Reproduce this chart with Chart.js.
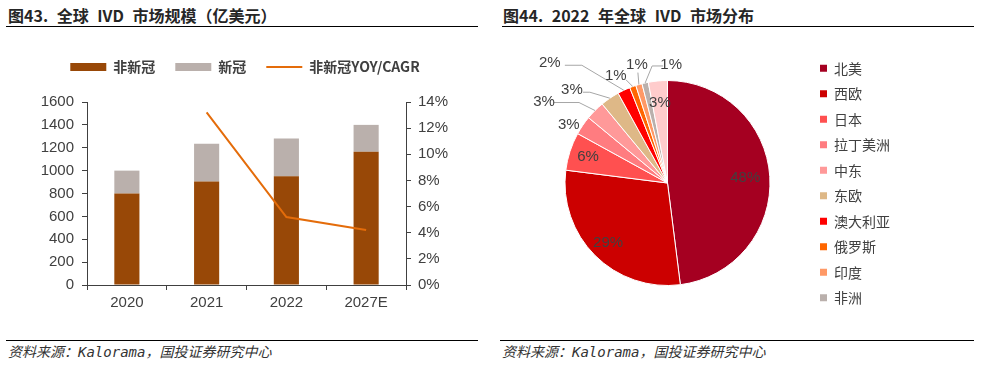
<!DOCTYPE html>
<html>
<head>
<meta charset="utf-8">
<script src="https://cdn.jsdelivr.net/npm/chart.js"></script>
<style>
  body { margin: 0; background: #fff; }
  #page { position: relative; width: 981px; height: 365px; overflow: hidden; background: #fff; font-family: "Noto Sans CJK SC", sans-serif; }
  .title { position: absolute; top: 5px; line-height: 20px; font-size: 16px; font-weight: bold; color: #262626; word-spacing: 5px; white-space: nowrap; text-spacing-trim: space-all; }
  .rule { position: absolute; height: 0; border-top: 1.5px solid #000; }
  .source { position: absolute; top: 344px; line-height: 16px; font-size: 14px; font-style: italic; color: #333; white-space: nowrap; text-spacing-trim: space-all;
            font-family: "DejaVu Sans Mono", "Noto Sans CJK SC", monospace; }
  .box { position: absolute; }
</style>
</head>
<body>
<div id="page">
  <div class="title" style="left:8px">图43. 全球 IVD 市场规模（亿美元）</div>
  <div class="rule" style="left:6px; width:472px; top:26px"></div>
  <div class="title" style="left:503px">图44. 2022 年全球 IVD 市场分布</div>
  <div class="rule" style="left:502px; width:472px; top:26px"></div>

  <div class="box" style="left:0; top:0"><canvas id="bar" width="490" height="330"></canvas></div>
  <div class="box" style="left:490px; top:30px"><canvas id="pie" width="491" height="305"></canvas></div>

  <div class="rule" style="left:6px; width:472px; top:340px"></div>
  <div class="rule" style="left:500px; width:474px; top:340px"></div>
  <div class="source" style="left:8px">资料来源：Kalorama，国投证券研究中心</div>
  <div class="source" style="left:502px">资料来源：Kalorama，国投证券研究中心</div>
</div>

<script>
// 图43: 全球IVD市场规模 (亿美元)
const years = ['2020', '2021', '2022', '2027E'];
const nonCovid = [800, 905, 950, 1165];
const covid = [200, 330, 330, 235];
const nonCovidGrowth = [null, 13.2, 5.2, 4.2]; // %, 2027E is CAGR
const sizeTicks = [0, 200, 400, 600, 800, 1000, 1200, 1400, 1600];
const growthTicks = [0, 2, 4, 6, 8, 10, 12, 14];

// 图44: 2022年全球IVD市场分布 (%)
const regions = ['北美', '西欧', '日本', '拉丁美洲', '中东', '东欧', '澳大利亚', '俄罗斯', '印度', '非洲', '其他'];
const regionShares = [48, 29, 6, 3, 3, 3, 2, 1, 1, 1, 3];
const regionColors = ['#A50021', '#CC0000', '#FF5050', '#FF7C80', '#FF9999', '#DEB887',
                      '#FF0000', '#FF6600', '#FF9966', '#BAB0AC', '#FFCCCC'];

const ink = '#404040';
const axisFont = { family: '"Liberation Sans", Arial, sans-serif', size: 15 };
const cjkFont = { family: '"Noto Sans CJK SC", sans-serif', size: 14 };

// push the plot down below the legend
const legendGap = {
    id: 'legendGap',
    beforeInit(chart) {
        const fit = chart.legend.fit;
        chart.legend.fit = function () {
            fit.call(this);
            this.height += 18;
        };
    }
};

new Chart(document.getElementById('bar'), {
    type: 'bar',
    data: {
        labels: years,
        datasets: [
            { label: '非新冠', data: nonCovid, backgroundColor: '#984807', barPercentage: 0.315, categoryPercentage: 1, order: 2 },
            { label: '新冠', data: covid, backgroundColor: '#BAB0AC', barPercentage: 0.315, categoryPercentage: 1, order: 2 },
            {
                type: 'line', label: '非新冠YOY/CAGR', data: nonCovidGrowth, yAxisID: 'y1',
                borderColor: '#E46C0A', backgroundColor: '#E46C0A', borderWidth: 2, pointRadius: 0, order: 1
            }
        ]
    },
    options: {
        responsive: false,
        animation: false,
        layout: { padding: { top: 40, left: 0, right: 0, bottom: 0 } },
        plugins: {
            tooltip: { enabled: false },
            legend: {
                labels: {
                    usePointStyle: true,
                    pointStyleWidth: 36,
                    boxHeight: 8,
                    padding: 20,
                    color: ink,
                    font: { ...cjkFont, weight: 'bold' },
                    sort: (a, b) => a.datasetIndex - b.datasetIndex,
                    generateLabels(chart) {
                        return Chart.defaults.plugins.legend.labels.generateLabels(chart).map(item => {
                            item.pointStyle = chart.data.datasets[item.datasetIndex].type === 'line' ? 'line' : 'rect';
                            return item;
                        });
                    }
                }
            }
        },
        scales: {
            x: {
                stacked: true,
                grid: { drawOnChartArea: false, tickLength: 5, color: ink },
                border: { color: ink },
                ticks: { color: ink, font: axisFont, padding: 4 },
                afterFit(scale) { scale.height = 45; }
            },
            y: {
                stacked: true,
                min: sizeTicks[0],
                max: sizeTicks[sizeTicks.length - 1],
                grid: { drawOnChartArea: false, tickLength: 5, color: ink },
                border: { color: ink },
                ticks: { stepSize: sizeTicks[1] - sizeTicks[0], color: ink, font: axisFont, padding: 8, callback: v => String(v) },
                afterFit(scale) { scale.width = 87; }
            },
            y1: {
                position: 'right',
                min: growthTicks[0],
                max: growthTicks[growthTicks.length - 1],
                grid: { drawOnChartArea: false, tickLength: 5, color: ink },
                border: { color: ink },
                ticks: { stepSize: growthTicks[1] - growthTicks[0], color: ink, font: axisFont, padding: 7, callback: v => v + '%' },
                afterFit(scale) { scale.width = 84; }
            }
        }
    },
    plugins: [legendGap]
});

// where each pie label goes: r = inside at fraction of radius,
// at = offset of label from the slice's outer edge, line = leader line points from that edge
const labelSpots = [
    { r: 0.76 },
    { r: 0.82 },
    { r: 0.815 },
    { at: [-14, -1] },
    { at: [-51, -9], line: [[0, 0], [-16, -8], [-41, -8]] },
    { at: [-38, -8], line: [[0, 0], [-20, -6], [-27, -6]] },
    { at: [-74, -27], line: [[0, 0], [-42, -25], [-59, -25]] },
    { at: [-17, -11], line: [[0, 0], [-7, -7]] },
    { at: [-2, -20], line: [[0, 0], [-1, -12]] },
    { at: [26, -18], line: [[0, 0], [7, -17], [18, -17]] },
    { r: 0.79 }
];

const pieLabels = {
    id: 'pieLabels',
    afterDatasetsDraw(chart) {
        const ctx = chart.ctx;
        const values = chart.data.datasets[0].data;
        ctx.save();
        ctx.font = '15px "Liberation Sans", Arial, sans-serif';
        ctx.fillStyle = ink;
        ctx.strokeStyle = '#A6A6A6';
        ctx.lineWidth = 1;
        ctx.textAlign = 'center';
        ctx.textBaseline = 'middle';
        chart.getDatasetMeta(0).data.forEach((arc, i) => {
            const spot = labelSpots[i];
            const mid = (arc.startAngle + arc.endAngle) / 2;
            const cos = Math.cos(mid), sin = Math.sin(mid);
            const text = values[i] + '%';
            if (spot.r) {
                ctx.fillText(text, arc.x + cos * arc.outerRadius * spot.r, arc.y + sin * arc.outerRadius * spot.r);
                return;
            }
            const ex = arc.x + cos * arc.outerRadius;
            const ey = arc.y + sin * arc.outerRadius;
            if (spot.line) {
                ctx.beginPath();
                spot.line.forEach(([dx, dy], k) => {
                    if (k) ctx.lineTo(ex + dx, ey + dy);
                    else ctx.moveTo(ex + dx, ey + dy);
                });
                ctx.stroke();
            }
            ctx.fillText(text, ex + spot.at[0], ey + spot.at[1]);
        });
        ctx.restore();
    }
};

new Chart(document.getElementById('pie'), {
    type: 'pie',
    data: {
        labels: regions,
        datasets: [{
            data: regionShares,
            backgroundColor: regionColors,
            borderColor: '#fff',
            borderWidth: 1,
            radius: 102.5
        }]
    },
    options: {
        responsive: false,
        animation: false,
        layout: { padding: { top: 15, bottom: 14, left: 36.5, right: 81 } },
        plugins: {
            tooltip: { enabled: false },
            legend: {
                position: 'right',
                labels: {
                    boxWidth: 7,
                    boxHeight: 7,
                    padding: 11.5,
                    color: ink,
                    font: cjkFont,
                    generateLabels(chart) {
                        return Chart.overrides.doughnut.plugins.legend.labels.generateLabels(chart)
                            .filter(item => item.text !== '其他')
                            .map(item => Object.assign(item, { lineWidth: 0 }));
                    }
                }
            }
        }
    },
    plugins: [pieLabels]
});
</script>
</body>
</html>
